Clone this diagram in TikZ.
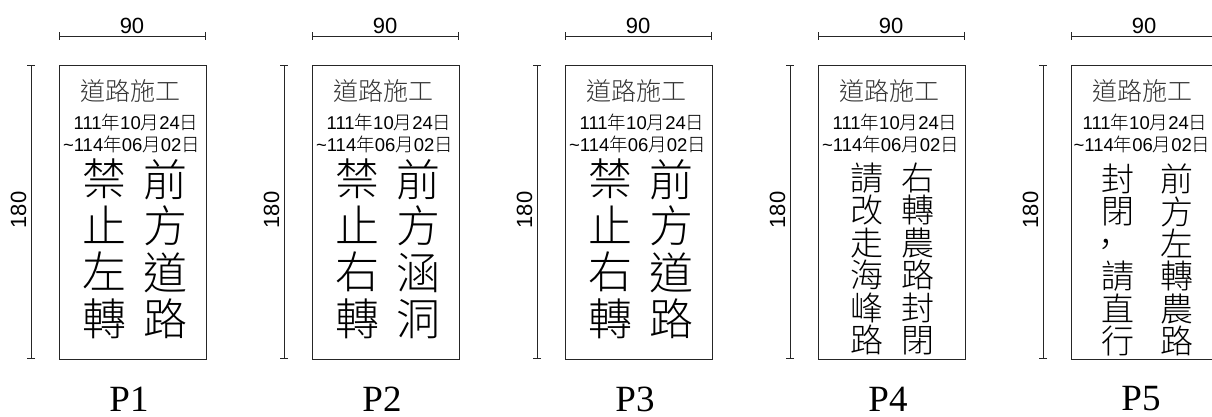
\documentclass[tikz,border=0pt]{standalone}
\usepackage{fontspec}
\setmainfont{Liberation Serif}
\setsansfont{Liberation Sans}
\newfontfamily\cjk{Noto Sans CJK TC Light}
\usepackage{tikz}
\usetikzlibrary{arrows.meta}
\newcommand{\cj}[1]{{\cjk #1}}
\lineskiplimit=-100pt

\begin{document}
\begin{tikzpicture}[x=1pt,y=1pt,yscale=-1,xscale=1,
  frame/.style={draw=black!85,line width=0.8pt},
  dimline/.style={draw=black!85,line width=0.8pt,{Bar[width=8pt]}-{Bar[width=8pt]}},
  dimtext/.style={font=\sffamily\fontsize{22}{22}\selectfont,inner sep=0pt},
  signtitle/.style={font=\cjk\fontsize{25}{25}\selectfont,inner sep=0pt,text=black!80},
  datetext/.style={font=\sffamily\fontsize{18.5}{18.5}\selectfont,inner sep=0pt},
  bigcol/.style={font=\cjk\fontsize{44}{46.5}\selectfont,align=center,inner sep=0pt},
  smallcol/.style={font=\cjk\fontsize{33}{32.4}\selectfont,align=center,inner sep=0pt},
  plabel/.style={font=\fontsize{37}{37}\selectfont,inner sep=0pt}]
\useasboundingbox (0,0) rectangle (1212,417);

%%% P1
%Shape: Rectangle
\draw [frame] (59,65) rectangle (206,359);
%Straight Lines
\coordinate (h1a) at (59,36); \coordinate (h1b) at (206,36);
\draw [dimline] (h1a) -- (h1b);
\coordinate (v1a) at (31,65); \coordinate (v1b) at (31,359);
\draw [dimline] (v1a) -- (v1b);
% Text Node
\draw (132,26) node [dimtext] (w1) {90};
\draw (18.5,210) node [dimtext,rotate=90] (l1) {180};
\draw (130.5,91) node [signtitle] (t1) {道路施工};
\draw (136,122) node [datetext] (da1) {111\cj{年}10\cj{月}24\cj{日}};
\draw (131.5,144) node [datetext] (db1) {\textasciitilde114\cj{年}06\cj{月}02\cj{日}};
\draw (104,249) node [bigcol] (c1a) {禁\\止\\左\\轉};
\draw (165,249) node [bigcol] (c1b) {前\\方\\道\\路};
\draw (129,399) node [plabel] (p1) {P1};

%%% P2
%Shape: Rectangle
\draw [frame] (312,65) rectangle (459,359);
%Straight Lines
\coordinate (h2a) at (312,36); \coordinate (h2b) at (459,36);
\draw [dimline] (h2a) -- (h2b);
\coordinate (v2a) at (284,65); \coordinate (v2b) at (284,359);
\draw [dimline] (v2a) -- (v2b);
% Text Node
\draw (385,26) node [dimtext] (w2) {90};
\draw (271.5,210) node [dimtext,rotate=90] (l2) {180};
\draw (383.5,91) node [signtitle] (t2) {道路施工};
\draw (389,122) node [datetext] (da2) {111\cj{年}10\cj{月}24\cj{日}};
\draw (384.5,144) node [datetext] (db2) {\textasciitilde114\cj{年}06\cj{月}02\cj{日}};
\draw (357,249) node [bigcol] (c2a) {禁\\止\\右\\轉};
\draw (418,249) node [bigcol] (c2b) {前\\方\\涵\\洞};
\draw (382,399) node [plabel] (p2) {P2};

%%% P3
%Shape: Rectangle
\draw [frame] (565,65) rectangle (712,359);
%Straight Lines
\coordinate (h3a) at (565,36); \coordinate (h3b) at (712,36);
\draw [dimline] (h3a) -- (h3b);
\coordinate (v3a) at (537,65); \coordinate (v3b) at (537,359);
\draw [dimline] (v3a) -- (v3b);
% Text Node
\draw (638,26) node [dimtext] (w3) {90};
\draw (524.5,210) node [dimtext,rotate=90] (l3) {180};
\draw (636.5,91) node [signtitle] (t3) {道路施工};
\draw (642,122) node [datetext] (da3) {111\cj{年}10\cj{月}24\cj{日}};
\draw (637.5,144) node [datetext] (db3) {\textasciitilde114\cj{年}06\cj{月}02\cj{日}};
\draw (610,249) node [bigcol] (c3a) {禁\\止\\右\\轉};
\draw (671,249) node [bigcol] (c3b) {前\\方\\道\\路};
\draw (635,399) node [plabel] (p3) {P3};

%%% P4
%Shape: Rectangle
\draw [frame] (818,65) rectangle (965,359);
%Straight Lines
\coordinate (h4a) at (818,36); \coordinate (h4b) at (965,36);
\draw [dimline] (h4a) -- (h4b);
\coordinate (v4a) at (790,65); \coordinate (v4b) at (790,359);
\draw [dimline] (v4a) -- (v4b);
% Text Node
\draw (891,26) node [dimtext] (w4) {90};
\draw (777.5,210) node [dimtext,rotate=90] (l4) {180};
\draw (889.5,91) node [signtitle] (t4) {道路施工};
\draw (895,122) node [datetext] (da4) {111\cj{年}10\cj{月}24\cj{日}};
\draw (890.5,144) node [datetext] (db4) {\textasciitilde114\cj{年}06\cj{月}02\cj{日}};
\draw (867,259) node [smallcol] (c4a) {請\\改\\走\\海\\峰\\路};
\draw (918,259) node [smallcol] (c4b) {右\\轉\\農\\路\\封\\閉};
\draw (888,399) node [plabel] (p4) {P4};

%%% P5
%Shape: Rectangle
\draw [frame] (1071,65) rectangle (1218,359);
%Straight Lines
\coordinate (h5a) at (1071,36); \coordinate (h5b) at (1218,36);
\draw [dimline] (h5a) -- (h5b);
\coordinate (v5a) at (1043,65); \coordinate (v5b) at (1043,359);
\draw [dimline] (v5a) -- (v5b);
% Text Node
\draw (1144,26) node [dimtext] (w5) {90};
\draw (1030.5,210) node [dimtext,rotate=90] (l5) {180};
\draw (1142.5,91) node [signtitle] (t5) {道路施工};
\draw (1145,122) node [datetext] (da5) {111\cj{年}10\cj{月}24\cj{日}};
\draw (1142,144) node [datetext] (db5) {\textasciitilde114\cj{年}06\cj{月}02\cj{日}};
\draw (1118,260) node [smallcol] (c5a) {封\\閉\\\kern-0.7em，\\請\\直\\行};
\draw (1177,260) node [smallcol] (c5b) {前\\方\\左\\轉\\農\\路};
\draw (1141,399) node [plabel] (p5) {P5};
\end{tikzpicture}
\end{document}
